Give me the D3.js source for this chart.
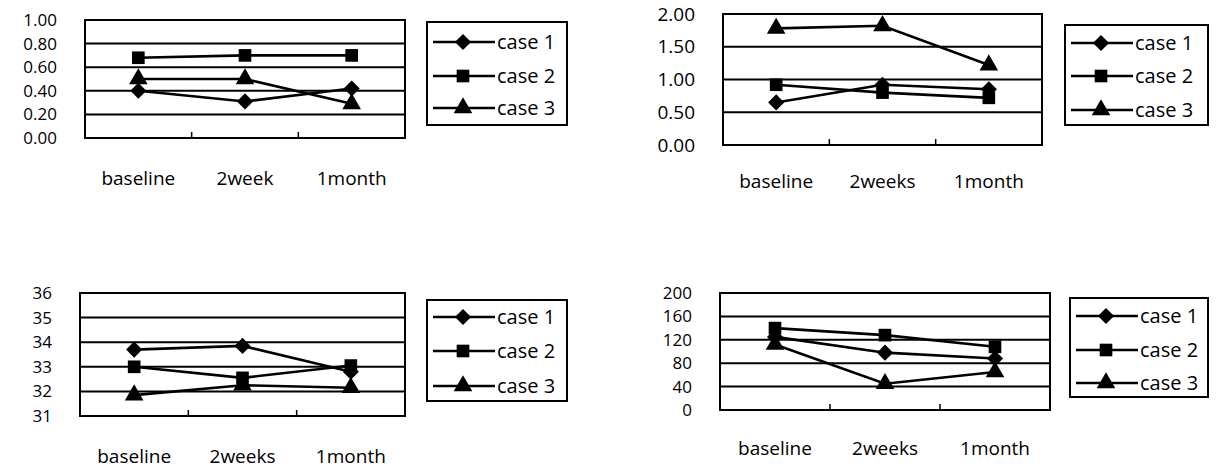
<!DOCTYPE html>
<html>
<head>
    <script src="https://cdnjs.cloudflare.com/ajax/libs/d3/7.8.5/d3.min.js"></script>
    <style>
        body { margin: 0; background: #fff; }
        svg text { font-family: "Open Sans", "Noto Sans", sans-serif; fill: #000; }
        .xtick { font-size: 19px; }
        .legend text { font-size: 20px; }
        .grid { stroke: #000; stroke-width: 2px; }
        .frame { fill: none; stroke: #000; stroke-width: 2px; }
        .series { fill: none; stroke: #000; stroke-width: 2.6px; }
    </style>
</head>
<body>
    <div id="chart"></div>
    <script>
        const width = 1220, height = 472;

        // categories
        const cats1 = ["baseline", "2week", "1month"];
        const cats = ["baseline", "2weeks", "1month"];
        const seriesNames = ["case 1", "case 2", "case 3"];

        // chart 1 (top left)
        const c1case1 = [0.40, 0.31, 0.42];
        const c1case2 = [0.68, 0.70, 0.70];
        const c1case3 = [0.50, 0.50, 0.29];
        const c1ticks = [0, 0.2, 0.4, 0.6, 0.8, 1.0];

        // chart 2 (top right)
        const c2case1 = [0.65, 0.92, 0.85];
        const c2case2 = [0.92, 0.80, 0.72];
        const c2case3 = [1.78, 1.82, 1.22];
        const c2ticks = [0, 0.5, 1.0, 1.5, 2.0];

        // chart 3 (bottom left)
        const c3case1 = [33.7, 33.85, 32.8];
        const c3case2 = [33.0, 32.55, 33.05];
        const c3case3 = [31.85, 32.25, 32.15];
        const c3ticks = [31, 32, 33, 34, 35, 36];

        // chart 4 (bottom right)
        const c4case1 = [125, 98, 88];
        const c4case2 = [140, 128, 108];
        const c4case3 = [112, 45, 65];
        const c4ticks = [0, 40, 80, 120, 160, 200];

        const panels = [
            { cats: cats1, series: [c1case1, c1case2, c1case3], ticks: c1ticks, fmt: d3.format(".2f"), fs: 17,
              x0: 85, x1: 405, y0: 20, y1: 138, xLabelY: 185,
              legend: { x: 427, y: 22, w: 140, h: 103, rows: [42, 76, 108] } },
            { cats: cats, series: [c2case1, c2case2, c2case3], ticks: c2ticks, fmt: d3.format(".2f"), fs: 19,
              x0: 723, x1: 1042, y0: 14, y1: 145, xLabelY: 188,
              legend: { x: 1065, y: 25, w: 143, h: 100, rows: [43, 76, 110] } },
            { cats: cats, series: [c3case1, c3case2, c3case3], ticks: c3ticks, fmt: d3.format("d"), fs: 17,
              x0: 80, x1: 405, y0: 293, y1: 416, xLabelY: 463,
              legend: { x: 427, y: 300, w: 140, h: 101, rows: [317, 351, 386] } },
            { cats: cats, series: [c4case1, c4case2, c4case3], ticks: c4ticks, fmt: d3.format("d"), fs: 17,
              x0: 720, x1: 1050, y0: 293, y1: 410, xLabelY: 455,
              legend: { x: 1070, y: 298, w: 138, h: 99, rows: [316, 350, 383] } }
        ];

        const markers = [
            { type: d3.symbolSquare, size: 130, rotate: 45 },
            { type: d3.symbolSquare, size: 160, rotate: 0 },
            { type: d3.symbolTriangle, size: 150, rotate: 0 }
        ];

        const svg = d3.select("#chart").append("svg")
            .attr("width", width).attr("height", height);

        function drawMarker(g, i, x, y) {
            const m = markers[i];
            g.append("path")
                .attr("d", d3.symbol().type(m.type).size(m.size)())
                .attr("transform", `translate(${x},${y}) rotate(${m.rotate})`)
                .attr("fill", "#000");
        }

        panels.forEach(p => {
            const g = svg.append("g");
            const y = d3.scaleLinear()
                .domain(d3.extent(p.ticks))
                .range([p.y1, p.y0]);
            const x = d3.scaleBand()
                .domain(p.cats)
                .range([p.x0, p.x1]);

            // gridlines
            g.append("g").selectAll("line")
                .data(p.ticks.slice(1, -1))
                .enter().append("line")
                .attr("class", "grid")
                .attr("x1", p.x0).attr("x2", p.x1)
                .attr("y1", d => y(d)).attr("y2", d => y(d));

            g.append("rect")
                .attr("class", "frame")
                .attr("x", p.x0).attr("y", p.y0)
                .attr("width", p.x1 - p.x0).attr("height", p.y1 - p.y0);

            // category tick marks on bottom edge
            g.append("g").selectAll("line")
                .data(p.cats.slice(1))
                .enter().append("line")
                .attr("stroke", "#000").attr("stroke-width", 1.5)
                .attr("x1", d => x(d)).attr("x2", d => x(d))
                .attr("y1", p.y1).attr("y2", p.y1 - 6);

            // y axis labels
            const yAxis = d3.axisLeft(y).tickValues(p.ticks).tickFormat(p.fmt).tickSize(0).tickPadding(28);
            const ya = g.append("g")
                .attr("transform", `translate(${p.x0},0)`)
                .call(yAxis);
            ya.select(".domain").remove();
            ya.selectAll("text")
                .attr("fill", "#000")
                .style("font-size", p.fs + "px");

            // x labels
            g.append("g").selectAll("text")
                .data(p.cats)
                .enter().append("text")
                .attr("class", "xtick")
                .attr("x", d => x(d) + x.bandwidth() / 2)
                .attr("y", p.xLabelY)
                .attr("text-anchor", "middle")
                .text(d => d);

            // series lines and markers
            const line = d3.line()
                .x((d, i) => x(p.cats[i]) + x.bandwidth() / 2)
                .y(d => y(d));
            p.series.forEach((vals, si) => {
                g.append("path").datum(vals).attr("class", "series").attr("d", line);
            });
            p.series.forEach((vals, si) => {
                vals.forEach((v, i) => drawMarker(g, si, x(p.cats[i]) + x.bandwidth() / 2, y(v)));
            });

            // legend
            const L = p.legend;
            const lg = g.append("g").attr("class", "legend");
            lg.append("rect").attr("class", "frame")
                .attr("x", L.x).attr("y", L.y).attr("width", L.w).attr("height", L.h);
            seriesNames.forEach((name, i) => {
                const ry = L.rows[i];
                lg.append("line").attr("stroke", "#000").attr("stroke-width", 2.4)
                    .attr("x1", L.x + 6).attr("x2", L.x + 68).attr("y1", ry).attr("y2", ry);
                drawMarker(lg, i, L.x + 36, ry);
                lg.append("text").attr("x", L.x + 70).attr("y", ry + 7).text(name);
            });
        });
    </script>
</body>
</html>
